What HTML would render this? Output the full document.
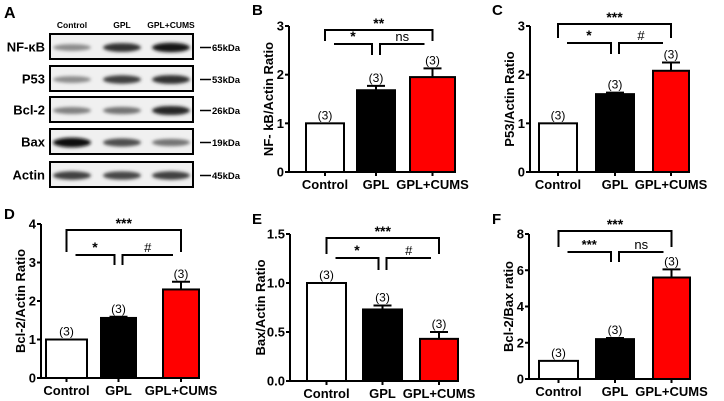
<!DOCTYPE html>
<html><head><meta charset="utf-8"><style>
html,body{margin:0;padding:0;background:#fff;}
svg{display:block;font-family:"Liberation Sans",Arial,sans-serif;}
</style></head><body>
<svg id="fig" width="724" height="401" viewBox="0 0 724 401" xmlns="http://www.w3.org/2000/svg">
<defs>
<filter id="blur" x="-30%" y="-100%" width="160%" height="300%"><feGaussianBlur stdDeviation="1.6"/></filter>
</defs>
</svg>
<script>
const categories = ["Control", "GPL", "GPL+CUMS"];
const blotRows = ["NF-κB", "P53", "Bcl-2", "Bax", "Actin"];
const blotKda = ["65kDa", "53kDa", "26kDa", "19kDa", "45kDa"];
const blotIntensity = [[0.45, 0.8, 0.9], [0.45, 0.75, 0.8], [0.5, 0.55, 0.85], [0.95, 0.7, 0.55], [0.75, 0.72, 0.75]];

const valuesB = [1.0, 1.68, 1.95];
const errorsB = [0, 0.09, 0.18];
const valuesC = [1.0, 1.6, 2.08];
const errorsC = [0, 0.03, 0.17];
const valuesD = [1.0, 1.56, 2.3];
const errorsD = [0, 0.03, 0.2];
const valuesE = [1.0, 0.73, 0.43];
const errorsE = [0, 0.04, 0.07];
const valuesF = [1.0, 2.2, 5.6];
const errorsF = [0, 0.06, 0.45];
const ticksB = [0, 1, 2, 3];
const ticksC = [0, 1, 2, 3];
const ticksD = [0, 1, 2, 3, 4];
const ticksE = ["0.0", "0.5", "1.0", "1.5"];
const ticksF = [0, 2, 4, 6, 8];
const nLabels = ["(3)", "(3)", "(3)"];

const NS = "http://www.w3.org/2000/svg";
const svg = document.getElementById("fig");
function mk(tag, attrs, parent, text) {
  const e = document.createElementNS(NS, tag);
  for (const k in attrs) e.setAttribute(k, attrs[k]);
  if (text !== undefined) e.textContent = text;
  (parent || svg).appendChild(e);
  return e;
}

/* ---------- Panel A: western blot ---------- */
const gA = mk("g", {});


const la = mk("text", {x: 4, y: 18, "font-size": 16, "font-weight": "bold"}, gA, "A");


const colX = [72, 122, 171];
categories.forEach((c, i) => {
  const t = mk("text", {x: colX[i], y: 28, "font-size": 8.5, "font-weight": "bold", "text-anchor": "middle"}, gA, c);
  
  
});
const rowTop = [34, 66, 97, 129, 162];
blotRows.forEach((r, i) => {
  const y = rowTop[i], h = 25;
  const box = mk("rect", {x: 50, y: y, width: 143, height: h, fill: "#f0f0f0", stroke: "#000", "stroke-width": 2}, gA);
  
  
  blotIntensity[i].forEach((v, j) => {
    const g = Math.round(255 * (1 - v));
    const b = mk("ellipse", {cx: colX[j], cy: y + h / 2 + 1, rx: 19, ry: 2 + 3 * v, fill: `rgb(${g},${g},${g})`, filter: "url(#blur)"}, gA);
    
    
  });
  const lbl = mk("text", {x: 45, y: y + h / 2 + 5, "font-size": 13, "font-weight": "bold", "text-anchor": "end"}, gA, r);
  
  
  mk("line", {x1: 200, x2: 211, y1: y + h / 2 + 1, y2: y + h / 2 + 1, stroke: "#000", "stroke-width": 1.5}, gA);
  const kd = mk("text", {x: 212, y: y + h / 2 + 4.5, "font-size": 9.5, "font-weight": "bold"}, gA, blotKda[i]);
  
  
});

/* ---------- bar panels ---------- */
function panel(cfg) {
  const g = mk("g", {});
  
  
  const yScale = v => cfg.y0 - (v / cfg.max) * (cfg.y0 - cfg.yTop);
  const L = mk("text", {x: cfg.letterX, y: cfg.letterY, "font-size": 15, "font-weight": "bold"}, g, cfg.letter);
  
  
  const centers = cfg.bars.map(b => (b[0] + b[1]) / 2);
  cfg.values.forEach((v, i) => {
    const [x0, x1] = cfg.bars[i];
    const yt = yScale(v);
    const fill = ["#fff", "#000", "#ff0000"][i];
    if (cfg.errors[i] > 0) {
      const ye = yScale(v + cfg.errors[i]);
      const e1 = mk("line", {x1: centers[i], x2: centers[i], y1: yt, y2: ye, stroke: "#000", "stroke-width": 2}, g);
      
      
      mk("line", {x1: centers[i] - 9, x2: centers[i] + 9, y1: ye, y2: ye, stroke: "#000", "stroke-width": 2}, g);
    }
    const r = mk("rect", {x: x0, y: yt, width: x1 - x0, height: cfg.y0 - yt, fill: fill, stroke: "#000", "stroke-width": 2}, g);
    
    
    const nt = mk("text", {x: centers[i], y: yScale(v + cfg.errors[i]) - 4, "font-size": 12, "text-anchor": "middle"}, g, nLabels[i]);
    
    
  });
  const ax = mk("line", {x1: cfg.ax, x2: cfg.ax, y1: cfg.yTop, y2: cfg.y0, stroke: "#000", "stroke-width": 2}, g);
  
  
  const xa = mk("line", {x1: cfg.ax - 1, x2: cfg.bars[2][1], y1: cfg.y0, y2: cfg.y0, stroke: "#000", "stroke-width": 2}, g);
  
  
  cfg.ticks.forEach(t => {
    const y = yScale(parseFloat(t));
    mk("line", {x1: cfg.ax - 4, x2: cfg.ax, y1: y, y2: y, stroke: "#000", "stroke-width": 2}, g);
    const tl = mk("text", {x: cfg.ax - 5, y: y + 4.5, "font-size": 13, "font-weight": "bold", "text-anchor": "end"}, g, String(t));
    
    
  });
  categories.forEach((c, i) => {
    mk("line", {x1: centers[i], x2: centers[i], y1: cfg.y0, y2: cfg.y0 + 4, stroke: "#000", "stroke-width": 2}, g);
    const xl = mk("text", {x: centers[i], y: cfg.y0 + 17, "font-size": 13, "font-weight": "bold", "text-anchor": "middle"}, g, c);
    
    
  });
  const ym = (cfg.yTop + cfg.y0) / 2;
  const yt = mk("text", {x: cfg.titleX, y: ym, "font-size": 13, "font-weight": "bold", "text-anchor": "middle", transform: `rotate(-90 ${cfg.titleX} ${ym})`}, g, cfg.title);
  
  
  const c0 = centers[0], c1 = centers[1], c2 = centers[2];
  const s = {stroke: "#000", "stroke-width": 2, fill: "none"};
  const ob = mk("polyline", Object.assign({points: `${c0},${cfg.outer[1]} ${c0},${cfg.outer[0]} ${c2},${cfg.outer[0]} ${c2},${cfg.outer[1]}`}, s), g);
  
  
  const il = mk("polyline", Object.assign({points: `${c0 + 9},${cfg.inner[0]} ${c1 - 4},${cfg.inner[0]} ${c1 - 4},${cfg.inner[1]}`}, s), g);
  
  
  const ir = mk("polyline", Object.assign({points: `${c1 + 4},${cfg.inner[1]} ${c1 + 4},${cfg.inner[0]} ${c2 - 8},${cfg.inner[0]}`}, s), g);
  
  
  const so = mk("text", {x: (c0 + c2) / 2, y: cfg.outer[0] - 2, "font-size": 14, "font-weight": "bold", "text-anchor": "middle"}, g, cfg.sig[0]);
  
  
  const sl = mk("text", {x: (c0 + 9 + c1 - 4) / 2, y: cfg.inner[0] - 3, "font-size": cfg.sig[1] === "*" ? 14 : 13, "font-weight": cfg.sig[1].indexOf("*") >= 0 ? "bold" : "normal", "text-anchor": "middle"}, g, cfg.sig[1]);
  
  
  const sr = mk("text", {x: (c1 + 4 + c2 - 8) / 2, y: cfg.inner[0] - 3, "font-size": 13, "text-anchor": "middle"}, g, cfg.sig[2]);
  
  
}

panel({name: "panel-b-nfkb", letter: "B", letterX: 252, letterY: 15, ax: 289, yTop: 26, y0: 172, max: 3, ticks: ticksB,
  values: valuesB, errors: errorsB, bars: [[306, 344], [357, 395], [410, 455]], title: "NF- kB/Actin Ratio", titleX: 273,
  outer: [30, 41], inner: [44, 55], sig: ["**", "*", "ns"]});
panel({name: "panel-c-p53", letter: "C", letterX: 492, letterY: 15, ax: 530, yTop: 26, y0: 172, max: 3, ticks: ticksC,
  values: valuesC, errors: errorsC, bars: [[539, 577], [596, 634], [653, 689]], title: "P53/Actin Ratio", titleX: 514,
  outer: [24, 38], inner: [43, 54], sig: ["***", "*", "#"]});
panel({name: "panel-d-bcl2", letter: "D", letterX: 4, letterY: 219, ax: 41, yTop: 224, y0: 378, max: 4, ticks: ticksD,
  values: valuesD, errors: errorsD, bars: [[46, 87], [101, 136], [163, 199]], title: "Bcl-2/Actin Ratio", titleX: 25,
  outer: [230, 252], inner: [255, 265], sig: ["***", "*", "#"]});
panel({name: "panel-e-bax", letter: "E", letterX: 252, letterY: 224, ax: 290, yTop: 234, y0: 381, max: 1.5, ticks: ticksE,
  values: valuesE, errors: errorsE, bars: [[307, 346], [363, 402], [420, 458]], title: "Bax/Actin Ratio", titleX: 265,
  outer: [238, 254], inner: [258, 270], sig: ["***", "*", "#"]});
panel({name: "panel-f-bcl2-bax", letter: "F", letterX: 492, letterY: 224, ax: 529, yTop: 234, y0: 379, max: 8, ticks: ticksF,
  values: valuesF, errors: errorsF, bars: [[539, 578], [596, 634], [653, 690]], title: "Bcl-2/Bax ratio", titleX: 513,
  outer: [231, 247], inner: [252, 262], sig: ["***", "***", "ns"]});
</script>
</body></html>
